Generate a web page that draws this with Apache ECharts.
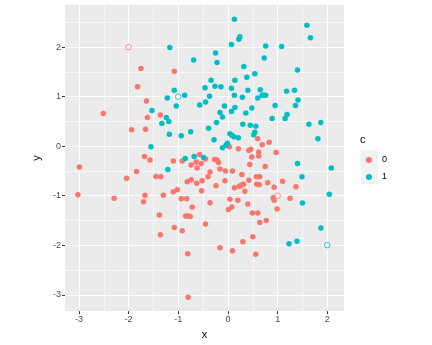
<!DOCTYPE html>
<html>
<head>
<meta charset="utf-8">
<script src="https://cdn.jsdelivr.net/npm/echarts@6/dist/echarts.min.js"></script>
<style>html,body{margin:0;padding:0;background:#fff}#c{width:432px;height:345px}</style>
</head>
<body>
<div id="c"></div>
<script>
// ---- data ----
const class0Points = [
  [-1.75,1.57],[-1.08,1.51],[-1.82,1.20],[-1.64,0.91],[-2.51,0.66],[-1.36,0.63],[-1.62,0.58],
  [-1.94,0.33],[-1.66,0.34],[-2.99,-0.42],[-1.68,-0.21],[-1.57,-0.28],[-1.10,-0.30],[-0.92,-0.30],
  [-0.57,-0.17],[-0.64,-0.32],[-0.54,-0.35],[-0.45,-0.26],[-0.74,-0.38],[-0.62,-0.44],[-1.84,-0.51],
  [-2.04,-0.65],[-1.45,-0.61],[-1.35,-0.62],[-0.82,-0.72],[-0.74,-0.68],[-0.63,-0.75],[-0.52,-0.70],
  [-1.02,-0.88],[-1.10,-0.92],[-1.30,-0.99],[-1.67,-0.99],[-3.02,-0.98],[-2.29,-1.05],[-1.70,-1.12],
  [-0.94,-1.06],[-0.83,-1.06],[-0.72,-1.23],[-1.38,-1.39],[-0.85,-1.41],[-0.80,-1.41],[-0.76,-1.42],
  [-0.45,-1.57],[-1.08,-1.64],[-0.92,-1.71],[-1.36,-1.79],[-0.81,-2.17],[-0.80,-3.05],
  [0.60,0.15],[0.69,0.03],[0.83,0.08],[0.03,-0.01],[0.21,-0.05],[0.42,-0.09],[0.46,-0.06],
  [0.62,-0.12],[0.62,-0.20],[0.97,-0.13],[0.48,-0.22],[-0.27,-0.27],[-0.22,-0.28],[-0.19,-0.33],
  [0.44,-0.37],[0.75,-0.41],[-0.16,-0.46],[-0.05,-0.50],[0.09,-0.50],[-0.36,-0.52],[0.28,-0.57],
  [-0.40,-0.62],[0.57,-0.62],[0.64,-0.62],[-0.06,-0.70],[0.42,-0.69],[1.10,-0.71],[0.80,-0.74],
  [0.58,-0.77],[0.63,-0.78],[-0.24,-0.80],[0.31,-0.77],[0.27,-0.79],[0.23,-0.81],[0.13,-0.84],
  [0.93,-0.83],[1.37,-0.82],[-0.53,-0.90],[0.34,-0.91],[1.25,-1.05],[0.91,-1.04],[0.93,-1.09],
  [0.04,-1.07],[0.20,-1.09],[-0.36,-1.14],[0.40,-1.17],[0.08,-1.23],[0.01,-1.28],[0.99,-1.27],
  [0.49,-1.35],[0.60,-1.35],[0.64,-1.54],[0.77,-1.50],[0.30,-1.93],[0.50,-1.83],[-0.16,-2.05],
  [0.09,-2.11],[0.56,-2.18]
];
const class1Points = [
  [-1.17,1.99],[-0.69,1.74],[-1.08,1.13],[-0.46,1.18],[-1.22,0.97],[-0.87,1.03],[-1.04,0.81],
  [-0.57,0.83],[-1.53,0.72],[-0.45,0.89],[0.13,2.56],[1.59,2.44],[1.66,2.19],[0.24,2.21],
  [0.22,2.16],[0.07,2.05],[0.76,2.02],[1.08,2.01],[-0.25,1.88],[-0.22,1.69],[0.73,1.78],
  [0.32,1.61],[1.40,1.54],[0.54,1.46],[0.38,1.39],[-0.34,1.33],[0.14,1.33],[-0.26,1.21],
  [-0.14,1.20],[0.07,1.17],[0.40,1.13],[0.65,1.14],[1.18,1.11],[1.34,1.13],[-0.37,1.01],
  [0.13,1.03],[0.29,0.99],[0.60,0.97],[0.69,1.03],[0.72,1.03],[0.76,1.03],[1.41,0.93],
  [1.36,0.82],[0.95,0.82],[-0.07,0.81],[0.14,0.78],[0.48,0.77],[-1.24,0.58],[-1.19,0.50],
  [-1.33,0.46],[-1.18,0.24],[-0.94,0.21],[-0.75,0.29],[-1.55,-0.01],[-0.86,-0.25],[-0.68,-0.21],
  [-0.49,-0.23],[-1.21,-0.47],[0.07,0.70],[-0.16,0.68],[-0.11,0.59],[0.36,0.67],[0.89,0.56],
  [1.15,0.56],[1.19,0.64],[-0.23,0.48],[0.30,0.44],[0.45,0.42],[0.56,0.40],[1.63,0.44],
  [1.87,0.48],[-0.39,0.36],[0.04,0.25],[0.08,0.22],[0.12,0.19],[0.21,0.17],[0.54,0.28],
  [0.52,0.23],[1.81,0.15],[-0.28,0.13],[-0.01,0.06],[-0.04,0.02],[-0.11,-0.03],[1.40,-0.35],
  [2.08,-0.44],[1.49,-0.62],[2.04,-0.97],[1.50,-1.15],[1.87,-1.65],[1.23,-1.97],[1.39,-1.92]
];
const hollow0Points = [[-2, 2], [1, -1]];
const hollow1Points = [[-1, 1], [2, -2]];
const classNames = ['0', '1'];
const xTicks = [-3, -2, -1, 0, 1, 2];
const xMinor = [-2.5, -1.5, -0.5, 0.5, 1.5];
const yTicks = [-3, -2, -1, 0, 1, 2];
const yMinor = [-2.5, -1.5, -0.5, 0.5, 1.5, 2.5];

// ---- chart ----
const RED = '#F8766D', CYAN = '#00BFC4';
const FONT = 'Liberation Sans, Arial, sans-serif';
const chart = echarts.init(document.getElementById('c'), null, {renderer: 'canvas'});
const X_MIN = -3.28, X_MAX = 2.336, Y_MIN = -3.33, Y_MAX = 2.85;

function majorAxis(ticks, extra) {
  return Object.assign({
    type: 'value',
    axisLine: {show: false, onZero: false},
    axisTick: {show: true, customValues: ticks, length: 3, lineStyle: {color: '#333', width: 1}},
    axisLabel: {customValues: ticks, color: '#4D4D4D', fontSize: 9, fontFamily: FONT, margin: 4},
    splitLine: {show: true, lineStyle: {color: '#FFFFFF', width: 1.1}},
    nameTextStyle: {color: '#000', fontSize: 11, fontFamily: FONT}
  }, extra);
}
function minorAxis(ticks, extra) {
  return Object.assign({
    type: 'value',
    axisLine: {show: false, onZero: false},
    axisTick: {show: false, customValues: ticks},
    axisLabel: {show: false, customValues: ticks},
    splitLine: {show: true, lineStyle: {color: '#FFFFFF', width: 0.55}}
  }, extra);
}

chart.setOption({
  animation: false,
  textStyle: {fontFamily: FONT},
  grid: {left: 65, right: 88, top: 5, bottom: 33, show: true, backgroundColor: '#EBEBEB', borderWidth: 0},
  xAxis: [
    minorAxis(xMinor, {min: X_MIN, max: X_MAX, position: 'top'}),
    majorAxis(xTicks, {min: X_MIN, max: X_MAX, position: 'bottom', name: 'x', nameLocation: 'middle', nameGap: 17})
  ],
  yAxis: [
    minorAxis(yMinor, {min: Y_MIN, max: Y_MAX, position: 'right'}),
    majorAxis(yTicks, {min: Y_MIN, max: Y_MAX, position: 'left', name: 'y', nameLocation: 'middle', nameGap: 20, nameRotate: 90})
  ],
  legend: {
    data: classNames,
    orient: 'vertical',
    left: 366, top: 151.5, padding: 0,
    itemWidth: 6, itemHeight: 6, itemGap: 0,
    icon: 'circle',
    textStyle: {color: '#000', fontSize: 9, fontFamily: FONT, lineHeight: 17, padding: [0, 0, 0, 5]}
  },
  graphic: [
    {type: 'rect', left: 361, top: 150, shape: {width: 17, height: 34}, style: {fill: '#F2F2F2'}, z: -1, silent: true},
    {type: 'text', left: 360, top: 134, style: {text: 'c', fill: '#000', fontSize: 11, fontFamily: FONT}}
  ],
  series: [
    {name: classNames[0], type: 'scatter', xAxisIndex: 1, yAxisIndex: 1, data: class0Points,
     symbolSize: 5.5, itemStyle: {color: RED, opacity: 1}},
    {name: classNames[1], type: 'scatter', xAxisIndex: 1, yAxisIndex: 1, data: class1Points,
     symbolSize: 5.5, itemStyle: {color: CYAN, opacity: 1}},
    {name: 'h0', type: 'scatter', xAxisIndex: 1, yAxisIndex: 1, data: hollow0Points,
     symbolSize: 5.5, itemStyle: {color: '#FFFFFF', borderColor: RED, borderWidth: 0.9, opacity: 1}},
    {name: 'h1', type: 'scatter', xAxisIndex: 1, yAxisIndex: 1, data: hollow1Points,
     symbolSize: 5.5, itemStyle: {color: '#FFFFFF', borderColor: CYAN, borderWidth: 0.9, opacity: 1}}
  ]
});
</script>
</body>
</html>
